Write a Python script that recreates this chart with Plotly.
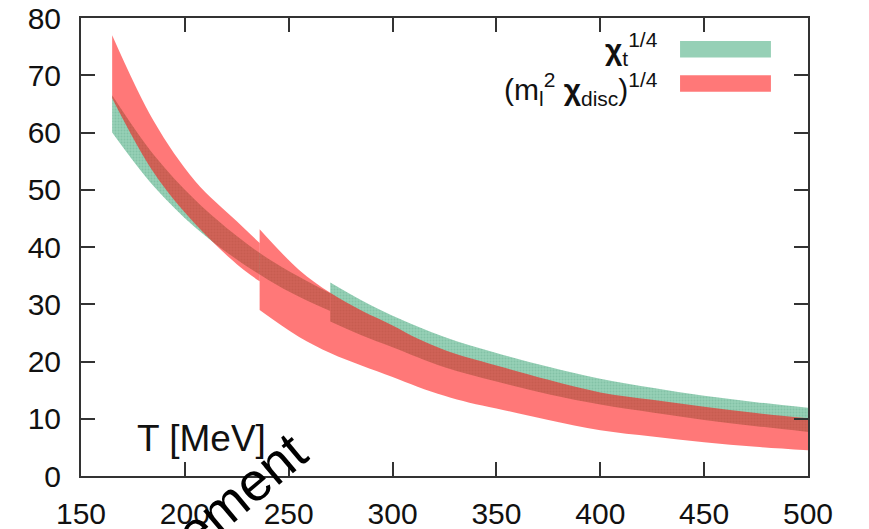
import plotly.graph_objects as go

# Temperature grids (MeV) and band edges for each segment
t_green_lo = [165, 185, 205, 225, 240, 255, 270]
green_lo_top = [66.5, 56.1, 48.2, 41.9, 38.0, 34.8, 31.9]
green_lo_bot = [60.0, 50.6, 43.4, 37.8, 34.3, 31.3, 28.8]

t_green_hi = [270, 285, 300, 325, 350, 375, 400, 425, 450, 475, 500]
green_hi_top = [33.8, 30.7, 28.0, 24.3, 21.5, 19.1, 17.0, 15.4, 14.0, 12.9, 11.9]
green_hi_bot = [27.0, 24.6, 22.5, 19.0, 16.5, 14.3, 12.5, 11.1, 9.8, 8.7, 7.7]

t_red_lo = [165, 185, 205, 225, 236]
red_lo_top = [77.0, 62.0, 51.5, 44.5, 40.7]
red_lo_bot = [66.0, 53.0, 44.0, 37.0, 34.0]

t_red_hi = [236, 255, 270, 285, 300, 312, 325, 337, 350, 375, 400, 425, 450, 475, 500]
red_hi_top = [43.1, 36.0, 32.0, 28.9, 26.3, 24.0, 22.0, 20.6, 19.3, 16.8, 14.6, 13.3, 12.1, 11.0, 10.1]
red_hi_bot = [29.0, 24.3, 21.5, 19.3, 17.3, 15.6, 14.0, 12.8, 11.8, 9.8, 8.0, 6.9, 5.9, 5.1, 4.5]

x_ticks = [150, 200, 250, 300, 350, 400, 450, 500]
y_ticks = [0, 10, 20, 30, 40, 50, 60, 70, 80]

GREEN = "rgb(150,208,182)"
GREEN_DOT = "rgb(112,178,150)"
RED = "rgba(255,10,10,0.55)"
RED_SOLID = "rgb(255,120,120)"
FONT = "Liberation Sans, Arial, sans-serif"


def band(fig, t, top, bot, fillcolor, fillpattern=None):
    """Lower edge first, then the upper edge filled down to it."""
    line = dict(width=0, shape="spline", smoothing=1.0)
    fig.add_trace(go.Scatter(x=t, y=bot, mode="lines", line=line,
                             hoverinfo="skip", showlegend=False))
    kw = dict(fillpattern=fillpattern) if fillpattern else {}
    fig.add_trace(go.Scatter(x=t, y=top, mode="lines", line=line, fill="tonexty",
                             fillcolor=fillcolor, hoverinfo="skip",
                             showlegend=False, **kw))


dots = dict(shape=".", bgcolor=GREEN, fgcolor=GREEN_DOT, size=3, solidity=0.35)

fig = go.Figure()
band(fig, t_green_lo, green_lo_top, green_lo_bot, GREEN, dots)
band(fig, t_green_hi, green_hi_top, green_hi_bot, GREEN, dots)
band(fig, t_red_lo, red_lo_top, red_lo_bot, RED)
band(fig, t_red_hi, red_hi_top, red_hi_bot, RED)

axis_common = dict(
    showgrid=False,
    zeroline=False,
    showline=True,
    linecolor="#333",
    linewidth=2,
    mirror="ticks",
    ticks="inside",
    ticklen=14,
    tickwidth=1.5,
    tickcolor="#333",
    automargin=False,
    tickfont=dict(family=FONT, size=30, color="#111"),
)

fig.update_xaxes(range=[150, 500], tickvals=x_ticks, ticklabelstandoff=10, **axis_common)
fig.update_yaxes(range=[0, 80], tickvals=y_ticks, ticklabelstandoff=12, **axis_common)

# Legend drawn by hand: text on the left, colour swatch on the right
legend_rows = [
    ("<b>χ</b><sub>t</sub><sup>1/4</sup>", GREEN, 0.932, 0.0),
    ("(m<sub>l</sub><sup>2</sup> <b>χ</b><sub>disc</sub>)<sup>1/4</sup>", RED_SOLID, 0.857, -0.012),
]
for text, color, yc, shift in legend_rows:
    fig.add_annotation(
        xref="paper", yref="paper", x=0.797, y=yc + shift,
        text=text, showarrow=False, xanchor="right", yanchor="middle",
        font=dict(family=FONT, size=30, color="#111"),
    )
    fig.add_shape(
        type="rect", xref="paper", yref="paper",
        x0=0.824, x1=0.949, y0=yc - 0.018, y1=yc + 0.018,
        line=dict(width=0), fillcolor=color,
    )

fig.add_annotation(
    xref="x", yref="y", x=176, y=6.6, text="T [MeV]", showarrow=False,
    xanchor="left", yanchor="middle",
    font=dict(family=FONT, size=37, color="#111"),
)

fig.add_annotation(
    xref="paper", yref="paper", x=0.22, y=-0.035, text="ement", showarrow=False,
    textangle=-40, xanchor="center", yanchor="middle",
    font=dict(family=FONT, size=54, color="#000"),
)

fig.update_layout(
    width=869, height=529,
    margin=dict(l=81, r=61, t=18, b=53),
    paper_bgcolor="white", plot_bgcolor="white",
)

fig.write_html("out.html")
